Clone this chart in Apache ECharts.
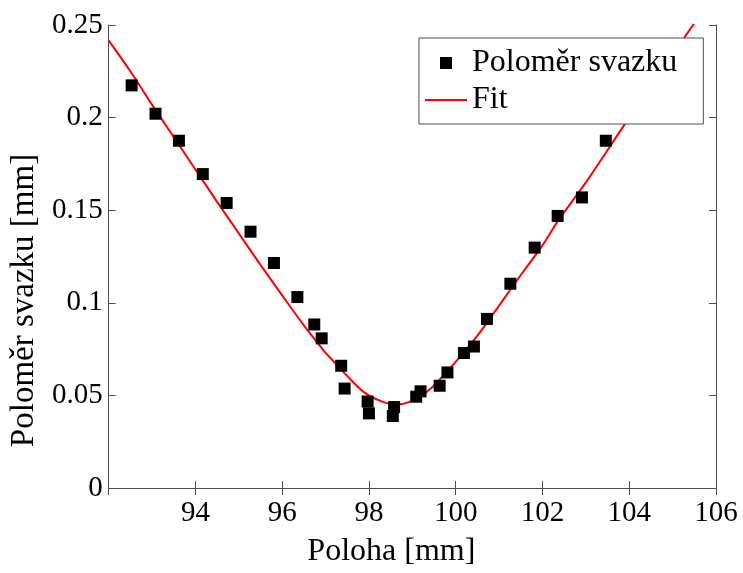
<!DOCTYPE html>
<html>
<head>
<meta charset="utf-8">
<title>Poloměr svazku</title>
<script src="https://cdn.jsdelivr.net/npm/echarts@6/dist/echarts.min.js"></script>
<style>
  html, body { margin: 0; padding: 0; background: #fff; }
  #chart { width: 743px; height: 573px; }
</style>
</head>
<body>
<div id="chart"></div>
<script>
// Measured beam radius along the axis [mm]
const polohaMeas = [92.53, 93.08, 93.62, 94.17, 94.72, 95.27, 95.81, 96.35, 96.74, 96.91,
                    97.36, 97.44, 97.97, 98.00, 98.55, 98.58, 99.09, 99.19, 99.63, 99.81,
                    100.19, 100.42, 100.72, 101.26, 101.82, 102.35, 102.91, 103.46];
const polomerMeas = [0.2174, 0.2021, 0.1875, 0.1695, 0.1539, 0.1384, 0.1215, 0.1031, 0.0883, 0.0808,
                     0.0660, 0.0537, 0.0467, 0.0403, 0.0389, 0.0437, 0.0493, 0.0522, 0.0552, 0.0624,
                     0.0729, 0.0764, 0.0913, 0.1103, 0.1298, 0.1469, 0.1569, 0.1875];

// Fitted curve samples
const polohaFit = [92.0, 92.5, 93.0, 93.5, 94.0, 94.5, 95.0, 95.5, 96.0, 96.5, 97.0, 97.14, 97.52,
                   97.90, 98.29, 98.63, 99.05, 99.44, 99.82, 100.2, 100.51, 101.0, 101.5, 102.0,
                   102.35, 103.0, 103.9, 105.5];
const polomerFit = [0.2417, 0.2250, 0.2070, 0.1895, 0.1720, 0.1545, 0.1375, 0.1205, 0.1040, 0.0878,
                    0.0730, 0.0695, 0.0600, 0.0515, 0.0468, 0.0450, 0.0477, 0.0540, 0.0635, 0.0735,
                    0.0825, 0.0985, 0.1150, 0.1310, 0.1440, 0.1650, 0.1965, 0.2510];

// Axis ranges and tick steps
const xRange = [92, 106], xStep = 2;
const yRange = [0, 0.25], yStep = 0.05;

const seriesNames = ['Poloměr svazku', 'Fit'];
const xTitle = 'Poloha [mm]';
const yTitle = 'Poloměr svazku [mm]';

const FONT = '"Liberation Serif", "DejaVu Serif", serif';
const AXIS_COLOR = '#4d4d4d';

// Legend glyphs: a centred square marker and a plain line segment in a 42x12 box
const ICON_SQUARE = 'path://M0,0M42,12M15,0h12v12h-12z';
const ICON_LINE = 'path://M0,0M42,12M0,5h42v2h-42z';

const zip = (a, b) => a.map((v, i) => [v, b[i]]);

const chart = echarts.init(document.getElementById('chart'), null, { renderer: 'canvas' });

const baseX = {
  type: 'value', min: xRange[0], max: xRange[1], interval: xStep,
  splitLine: { show: false },
  axisLine: { show: true, lineStyle: { color: AXIS_COLOR, width: 1 } },
  axisTick: { show: true, inside: true, length: 7, lineStyle: { color: AXIS_COLOR } }
};
const baseY = {
  type: 'value', min: yRange[0], max: yRange[1], interval: yStep,
  splitLine: { show: false },
  axisLine: { show: true, lineStyle: { color: AXIS_COLOR, width: 1 } },
  axisTick: { show: true, inside: true, length: 7, lineStyle: { color: AXIS_COLOR } }
};

chart.setOption({
  animation: false,
  backgroundColor: '#fff',
  grid: { left: 107, right: 27, top: 25, bottom: 85, containLabel: false },
  legend: {
    left: 419, top: 38, orient: 'vertical',
    itemWidth: 42, itemHeight: 12, itemGap: 5,
    padding: [9, 26, 8, 6],
    backgroundColor: '#fff', borderColor: AXIS_COLOR, borderWidth: 1, borderRadius: 0,
    textStyle: { fontFamily: FONT, fontSize: 32, color: '#000' },
    data: [
      { name: seriesNames[0], icon: ICON_SQUARE },
      { name: seriesNames[1], icon: ICON_LINE }
    ]
  },
  xAxis: [
    Object.assign({}, baseX, {
      position: 'bottom',
      name: xTitle, nameLocation: 'middle', nameGap: 48,
      nameTextStyle: { fontFamily: FONT, fontSize: 32, color: '#000', padding: [0, 42, 0, 0] },
      axisLabel: { show: true, showMinLabel: false, margin: 11, fontFamily: FONT, fontSize: 29, color: '#000' }
    }),
    Object.assign({}, baseX, { position: 'top', axisLabel: { show: false } })
  ],
  yAxis: [
    Object.assign({}, baseY, {
      position: 'left',
      name: yTitle, nameLocation: 'middle', nameGap: 66, nameRotate: 90,
      nameTextStyle: { fontFamily: FONT, fontSize: 33, color: '#000', padding: [0, 88, 0, 0] },
      axisLabel: { show: true, margin: 6, fontFamily: FONT, fontSize: 29, color: '#000' }
    }),
    Object.assign({}, baseY, { position: 'right', axisLabel: { show: false } })
  ],
  series: [
    {
      name: seriesNames[0], type: 'scatter',
      xAxisIndex: 0, yAxisIndex: 0,
      symbol: 'rect', symbolSize: 12,
      itemStyle: { color: '#000', opacity: 1 },
      data: zip(polohaMeas, polomerMeas),
      z: 3
    },
    {
      name: seriesNames[1], type: 'line',
      xAxisIndex: 0, yAxisIndex: 0,
      symbol: 'none', showSymbol: false,
      smooth: 0.3,
      clip: true,
      lineStyle: { color: '#ff0000', width: 2 },
      itemStyle: { color: '#ff0000' },
      data: zip(polohaFit, polomerFit),
      z: 2
    }
  ]
});
</script>
</body>
</html>
